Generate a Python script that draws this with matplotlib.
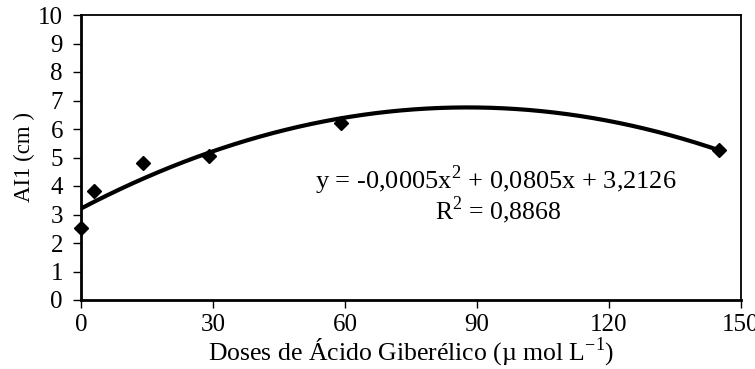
import numpy as np
import matplotlib
matplotlib.use("Agg")
import matplotlib.pyplot as plt

plt.rcParams['font.family'] = ['Liberation Serif', 'DejaVu Serif']
plt.rcParams['mathtext.fontset'] = 'custom'
plt.rcParams['mathtext.rm'] = 'Liberation Serif'

doses = [0, 3, 14, 29, 59, 145]
ai1 = [2.53, 3.82, 4.8, 5.05, 6.22, 5.28]
x_ticks = [0, 30, 60, 90, 120, 150]
y_ticks = list(range(0, 11))

fig = plt.figure(figsize=(7.55, 3.69), dpi=100)
ax = fig.add_axes([81/755, 1 - 300/369, (741-81)/755, (300-15)/369])

# quadratic trendline fitted to the points
coef = np.polyfit(doses, ai1, 2)
xc = np.linspace(0, 145, 300)
ax.plot(xc, np.polyval(coef, xc), color='black', lw=3.0, solid_capstyle='butt', zorder=2)
ax.plot(doses, ai1, linestyle='none', marker='D', ms=7.2, color='black', zorder=3, clip_on=False)

ax.set_xlim(0, 150)
ax.set_ylim(0, 10)
ax.set_xticks(x_ticks)
ax.set_yticks(y_ticks)
ax.tick_params(axis='both', direction='out', length=6, width=1, labelsize=18, colors='black')
ax.tick_params(axis='y', pad=7)
ax.tick_params(axis='x', pad=4)
for s in ['left', 'bottom']:
    ax.spines[s].set_linewidth(2.0)
for s in ['top', 'right']:
    ax.spines[s].set_linewidth(1.3)

ax.set_xlabel(r'Doses de Ácido Giberélico (µ mol L$^{\mathregular{-1}}$)', fontsize=18.5, labelpad=-0.5)
ax.set_ylabel('AI1 (cm )', fontsize=16.5, labelpad=2)

def px(xp, yp):
    return (xp, 369 - yp)
ax.text(*px(496, 189), r'y = -0,0005x$^{\mathregular{2}}$ + 0,0805x + 3,2126', fontsize=19,
        ha='center', va='baseline', transform=None)
ax.text(*px(498, 219), r'R$^{\mathregular{2}}$ = 0,8868', fontsize=18.5,
        ha='center', va='baseline', transform=None)

fig.savefig('out.png', dpi=100)
